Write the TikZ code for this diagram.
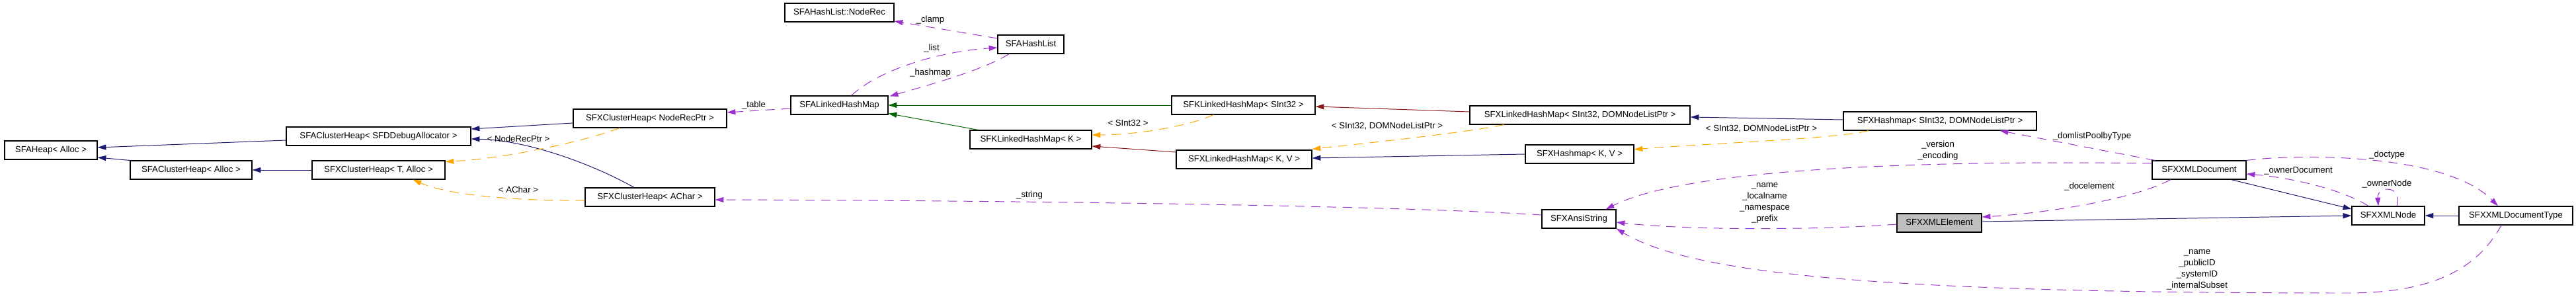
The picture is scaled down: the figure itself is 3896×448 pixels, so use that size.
\documentclass[tikz,border=0pt]{standalone}
\usepackage{fontspec}
\setmainfont{Liberation Sans}
\usepackage{tikz}
\usetikzlibrary{calc, arrows.meta}
\definecolor{InhBlue}{HTML}{191970}
\definecolor{InhGreen}{HTML}{006400}
\definecolor{InhRed}{HTML}{8B1A1A}
\definecolor{TplOrange}{HTML}{FFA500}
\definecolor{UsePurple}{HTML}{9A32CD}
\definecolor{CurGray}{HTML}{BFBFBF}
\newcommand{\pxu}{0.025cm}

\begin{document}
\begin{tikzpicture}[x=\pxu, y=-\pxu, font=\fontsize{9.4}{12}\selectfont,
  cls/.style={draw, line width=0.8pt, inner sep=0pt, minimum height=28*\pxu,
    text height=6.8pt, text depth=1.9pt},
  curcls/.style={cls, fill=CurGray},
  headtri/.style={-{Triangle[length=0.32cm, width=0.2cm]}},
  publine/.style={headtri, draw=InhBlue, line width=0.7pt},
  protline/.style={headtri, draw=InhGreen, line width=0.7pt},
  privline/.style={headtri, draw=InhRed, line width=0.7pt},
  tplline/.style={headtri, draw=TplOrange, line width=0.7pt, dash pattern=on 10pt off 7pt},
  useline/.style={headtri, draw=UsePurple, line width=0.7pt, dash pattern=on 10pt off 7pt},
  lbl/.style={inner sep=0pt, align=center}]
  \useasboundingbox (0,0) rectangle (3896,448);
  % classes
  \node[cls, minimum width=140*\pxu] (heap) at (77,227) {SFAHeap< Alloc >};
  \node[cls, minimum width=279*\pxu] (cdebug) at (572.5,206) {SFAClusterHeap< SFDDebugAllocator >};
  \node[cls, minimum width=184*\pxu] (calloc) at (289,257) {SFAClusterHeap< Alloc >};
  \node[cls, minimum width=201*\pxu] (xtalloc) at (572.5,257) {SFXClusterHeap< T, Alloc >};
  \node[cls, minimum width=232*\pxu] (xnoderec) at (983,179) {SFXClusterHeap< NodeRecPtr >};
  \node[cls, minimum width=196*\pxu] (xachar) at (983,298) {SFXClusterHeap< AChar >};
  \node[cls, minimum width=165*\pxu] (noderec) at (1269.5,19) {SFAHashList::NodeRec};
  \node[cls, minimum width=100*\pxu] (hashlist) at (1559,67) {SFAHashList};
  \node[cls, minimum width=147*\pxu] (alhm) at (1269.5,159) {SFALinkedHashMap};
  \node[cls, minimum width=217*\pxu] (klhmint) at (1880.5,159) {SFKLinkedHashMap< SInt32 >};
  \node[cls, minimum width=184*\pxu] (klhmk) at (1559,211) {SFKLinkedHashMap< K >};
  \node[cls, minimum width=205*\pxu] (xlhmkv) at (1881.5,241) {SFXLinkedHashMap< K, V >};
  \node[cls, minimum width=333*\pxu] (xlhmint) at (2389.5,174) {SFXLinkedHashMap< SInt32, DOMNodeListPtr >};
  \node[cls, minimum width=164*\pxu] (xhmkv) at (2389,233) {SFXHashmap< K, V >};
  \node[cls, minimum width=292*\pxu] (xhmint) at (2934,183) {SFXHashmap< SInt32, DOMNodeListPtr >};
  \node[cls, minimum width=112*\pxu] (ansi) at (2388,331) {SFXAnsiString};
  \node[curcls, minimum width=128*\pxu] (elem) at (2933,337) {SFXXMLElement};
  \node[cls, minimum width=142*\pxu] (doc) at (3326,257) {SFXXMLDocument};
  \node[cls, minimum width=110*\pxu] (xnode) at (3612,326) {SFXXMLNode};
  \node[cls, minimum width=172*\pxu] (doctype) at (3805,326) {SFXXMLDocumentType};

  % public inheritance
  \draw[publine] ($(cdebug.west)+(0,6)$) -- ($(heap.east)+(0,-4)$);
  \draw[publine] (calloc.north west) -- ($(heap.east)+(0,11)$);
  \draw[publine] (xtalloc.west) -- (calloc.east);
  \draw[publine] ($(xnoderec.west)+(0,7)$) -- ($(cdebug.east)+(0,-11)$);
  \draw[publine] ($(xachar.north)+(-24,0)$) .. controls (900,250) and (800,212) .. ($(cdebug.east)+(0,4)$);
  \draw[publine] (xhmkv.west) -- ($(xlhmkv.east)+(0,-2)$);
  \draw[publine] ($(xhmint.west)+(0,-2)$) -- ($(xlhmint.east)+(0,3)$);
  \draw[publine] ($(elem.east)+(0,-2)$) -- (xnode.west);
  \draw[publine] ($(doc.south east)+(-23,0)$) -- ($(xnode.west)+(0,-10)$);
  \draw[publine] (doctype.west) -- (xnode.east);
  % protected / private inheritance
  \draw[protline] (klhmint.west) -- (alhm.east);
  \draw[protline] ($(klhmk.north west)+(13,0)$) -- ($(alhm.south east)+(0,-2)$);
  \draw[privline] ($(xlhmint.west)+(0,-5)$) -- ($(klhmint.east)+(0,2)$);
  \draw[privline] ($(xlhmkv.west)+(0,-11)$) -- ($(klhmk.east)+(0,10)$);

  % template instances
  \draw[tplline] ($(xnoderec.south)+(-46,0)$) .. controls (880,215) and (760,240) .. ($(xtalloc.north east)+(0,2)$);
  \draw[tplline] ($(xachar.west)+(0,5)$) .. controls (790,304) and (680,296) .. ($(xtalloc.south)+(52,0)$);
  \draw[tplline] ($(klhmint.south)+(-45,0)$) .. controls (1800,190) and (1720,204) .. ($(klhmk.east)+(0,-7)$);
  \draw[tplline] ($(xlhmint.south)+(-115,0)$) .. controls (2220,200) and (2080,215) .. ($(xlhmkv.north east)+(0,-1)$);
  \draw[tplline] ($(xhmint.south)+(-108,0)$) .. controls (2780,210) and (2560,218) .. ($(xhmkv.east)+(0,-7)$);
  \node[lbl] (lnoderecptr) at (784,210) {< NodeRecPtr >};
  \node[lbl] (lachar) at (784,287) {< AChar >};
  \node[lbl] (lsint) at (1706,186) {< SInt32 >};
  \node[lbl] (ldomone) at (2098,191) {< SInt32, DOMNodeListPtr >};
  \node[lbl] (ldomtwo) at (2664,195) {< SInt32, DOMNodeListPtr >};

  % members
  \draw[useline] ($(hashlist.west)+(0,-9)$) -- ($(noderec.east)+(0,13)$);
  \draw[useline] ($(alhm.north)+(18,0)$) .. controls (1330,105) and (1420,78) .. ($(hashlist.west)+(0,5)$);
  \draw[useline] ($(hashlist.south)+(-33,0)$) .. controls (1490,105) and (1400,130) .. ($(alhm.north east)+(2,1)$);
  \draw[useline] ($(alhm.west)+(0,5)$) -- ($(xnoderec.east)+(0,-9)$);
  \draw[useline] ($(ansi.west)+(0,-6)$) .. controls (2100,310) and (1500,303) .. ($(xachar.east)+(0,4)$);
  \draw[useline] ($(doc.west)+(0,-10)$) .. controls (2900,242) and (2550,255) .. ($(ansi.north east)+(-16,0)$);
  \draw[useline] ($(elem.west)+(0,2)$) .. controls (2750,348) and (2550,348) .. ($(ansi.east)+(0,5)$);
  \draw[useline] ($(doctype.south)+(-22,0)$) .. controls (3750,400) and (3690,443) .. (3550,443)
     .. controls (2850,443) and (2560,415) .. (ansi.south east);
  \draw[useline] ($(doc.north west)+(5,0)$) -- ($(xhmint.south east)+(-56,0)$);
  \draw[useline] ($(doc.south)+(-43,0)$) .. controls (3230,300) and (3100,322) .. ($(elem.east)+(0,-9)$);
  \draw[useline] ($(xnode.north)+(-30,0)$) .. controls (3540,285) and (3460,268) .. ($(doc.east)+(0,6)$);
  \draw[useline] ($(xnode.north)+(13,0)$) .. controls (3635,280) and (3595,280) .. ($(xnode.north)+(-15,0)$);
  \draw[useline] (doc.north east) .. controls (3480,232) and (3700,232) .. ($(doctype.north)+(-27,0)$);
  \node[lbl] (lclamp) at (1407,30) {\_clamp};
  \node[lbl] (llist) at (1409,73) {\_list};
  \node[lbl] (lhashmap) at (1407,110) {\_hashmap};
  \node[lbl] (ltable) at (1140,159) {\_table};
  \node[lbl] (lstring) at (1557,295) {\_string};
  \node[lbl] (lverenc) at (2931,227.5) {\_version\\\_encoding};
  \node[lbl] (lelemattr) at (2669,307) {\_name\\\_localname\\\_namespace\\\_prefix};
  \node[lbl] (ldocelem) at (3160,282) {\_docelement};
  \node[lbl] (ldomlist) at (3164,206) {\_domlistPoolbyType};
  \node[lbl] (ldoctype) at (3610,234) {\_doctype};
  \node[lbl] (lownerdoc) at (3476,258) {\_ownerDocument};
  \node[lbl] (lownernode) at (3610,278) {\_ownerNode};
  \node[lbl] (ldtattr) at (3323,407.5) {\_name\\\_publicID\\\_systemID\\\_internalSubset};
\end{tikzpicture}
\end{document}
